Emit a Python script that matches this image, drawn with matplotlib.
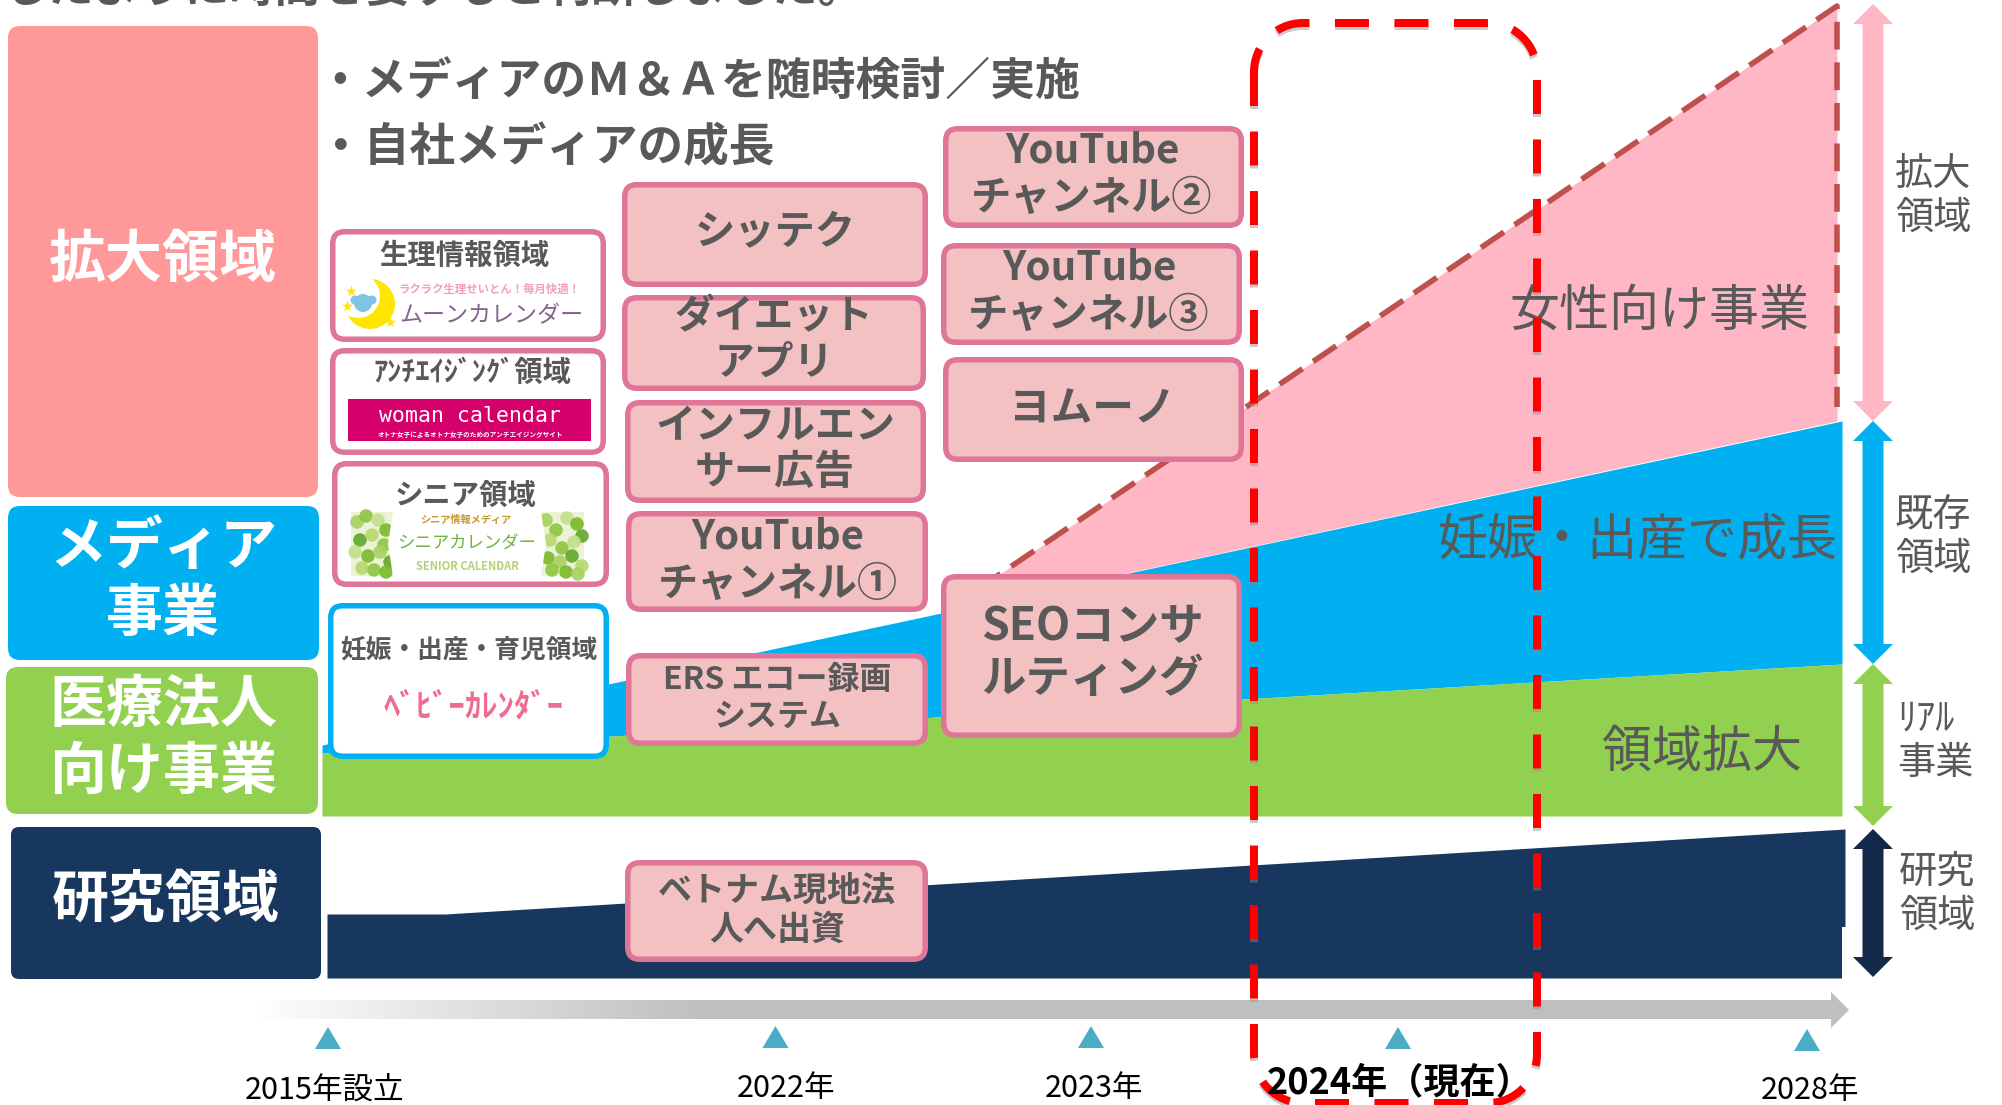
# -*-coding:utf-8-*-
from matplotlib import pyplot as plt
from matplotlib.patches import FancyBboxPatch, Polygon, Circle, Rectangle, PathPatch
from matplotlib.path import Path
import numpy as np

plt.rcParams['font.family'] = ['Noto Sans CJK JP', 'DejaVu Sans']

GRAY = '#595959'
EDGE = '#DF7597'
FILL = '#F4C1C3'

# area chart boundaries (canvas pixels)
line_x = [322, 1842]
green_top = [753, 664]
green_base = [816, 816]
blue_top = [745, 421]
pink_x = [944, 1837]
pink_top = [612, 6]
pink_base = [612, 421]
navy_x = [327, 445, 1845]
navy_top = [914, 914, 829]
navy_base = [978, 978, 978]

year_labels = ['2015年設立', '2022年', '2023年', '2028年']
current_label = '2024年（現在）'
left_labels = ['拡大領域', 'メディア\n事業', '医療法人\n向け事業', '研究領域']
right_labels = ['拡大\n領域', '既存\n領域', '研究\n領域']
real_label = 'ﾘｱﾙ\n事業'
area_labels = ['女性向け事業', '妊娠・出産で成長', '領域拡大']
bullets = ['・メディアのＭ＆Ａを随時検討／実施', '・自社メディアの成長']
box_labels_2 = ['シッテク', 'ダイエット\nアプリ', 'インフルエン\nサー広告', 'YouTube\nチャンネル①',
                'ERS エコー録画\nシステム', 'ベトナム現地法\n人へ出資']
box_labels_3 = ['YouTube\nチャンネル②', 'YouTube\nチャンネル③', 'ヨムーノ', 'SEOコンサ\nルティング']
head_line = 'したように時間を要すると判断しました。'

# bubbles of the senior calendar logo
bubble_x = [357, 366, 378, 386, 360, 372, 384, 355, 368, 380, 390, 362, 374, 386,
            546, 556, 567, 577, 582, 550, 562, 574, 548, 560, 572, 582, 552, 566, 578]
bubble_y = [522, 516, 520, 530, 540, 535, 545, 552, 556, 552, 562, 568, 570, 572,
            520, 530, 518, 524, 536, 540, 548, 542, 558, 562, 556, 566, 570, 572, 574]
bubble_c = ['#A8D060', '#8CC63F', '#C5E08A', '#7AB929', '#5FA82A', '#B5D96E', '#8CC63F',
            '#C5E08A', '#7AB929', '#A8D060', '#5FA82A', '#B5D96E', '#8CC63F', '#7AB929']


def box(ax, x0, y0, x1, y1, fc, ec=None, lw=5.5, r=12, z=3):
    # bounds are outer bounds, lw in canvas pixels
    inset = lw / 2 if ec else 0
    p = FancyBboxPatch((x0 + inset + r, y0 + inset + r),
                       x1 - x0 - 2 * inset - 2 * r, y1 - y0 - 2 * inset - 2 * r,
                       boxstyle='round,pad=%d,rounding_size=%d' % (r, r),
                       fc=fc, ec=ec if ec else 'none', lw=lw * 0.72, zorder=z)
    ax.add_patch(p)


def label(ax, x, y, s, size, color=GRAY, bold=True, z=5, **kw):
    # the font sits a little high in its box, so push it down with its size
    ax.text(x, y + size * 0.23, s, fontsize=size, color=color, ha=kw.pop('ha', 'center'), va='center',
            fontweight='bold' if bold else 'normal', zorder=z, **kw)


def updown(ax, x, y0, y1, color, z=2):
    # double headed arrow
    w, hw, hl = 10.5, 20, 20
    ax.add_patch(Polygon([(x, y0), (x + hw, y0 + hl), (x + w, y0 + hl), (x + w, y1 - hl), (x + hw, y1 - hl),
                          (x, y1), (x - hw, y1 - hl), (x - w, y1 - hl), (x - w, y0 + hl), (x - hw, y0 + hl)],
                         fc=color, ec='none', zorder=z))


def red_frame(ax, x0, y0, x1, y1, r, color='#FF0000', z=6, alpha=1):
    # rounded frame, drawn from the seam on the left side
    k = r * 0.5523
    verts = [(x0, y0 + r), (x0, y1 - r),
             (x0, y1 - r + k), (x0 + r - k, y1), (x0 + r, y1),
             (x1 - r, y1),
             (x1 - r + k, y1), (x1, y1 - r + k), (x1, y1 - r),
             (x1, y0 + r),
             (x1, y0 + r - k), (x1 - r + k, y0), (x1 - r, y0),
             (x0 + r, y0),
             (x0 + r - k, y0), (x0, y0 + r - k), (x0, y0 + r)]
    codes = [Path.MOVETO, Path.LINETO,
             Path.CURVE4, Path.CURVE4, Path.CURVE4,
             Path.LINETO,
             Path.CURVE4, Path.CURVE4, Path.CURVE4,
             Path.LINETO,
             Path.CURVE4, Path.CURVE4, Path.CURVE4,
             Path.LINETO,
             Path.CURVE4, Path.CURVE4, Path.CURVE4]
    patch = PathPatch(Path(verts, codes), fc='none', ec=color, lw=8 * 0.72, zorder=z, alpha=alpha,
                      linestyle=(0, (34 / 8, 25.5 / 8)), capstyle='butt')
    ax.add_patch(patch)


def draw_areas(ax):
    ax.fill_between(navy_x, navy_top, navy_base, color='#17375E', lw=0, zorder=1)
    ax.add_patch(Rectangle((1842, 927), 5, 53, fc='white', ec='none', zorder=1.05))
    ax.fill_between(line_x, green_top, green_base, color='#92D050', lw=0, zorder=1.2)
    ax.fill_between(line_x, blue_top, green_top, color='#00B0F0', lw=0, zorder=1.1)
    ax.fill_between(pink_x, pink_top, pink_base, color='#FFB7C5', lw=0, zorder=1)
    # dashed outline of the pink area
    ax.plot([pink_x[0], pink_x[1], pink_x[1]], [pink_top[0], pink_top[1], pink_base[1] - 14],
            color='#C0504D', lw=4, linestyle=(0, (5, 2.3)), zorder=1.5, solid_joinstyle='miter')


def draw_timeline(ax):
    grad = np.linspace(0, 1, 256).reshape(1, -1)
    grad = np.clip(grad * 1582 / 450, 0, 1)
    rgb = np.ones((1, 256, 3))
    for i in range(3):
        rgb[:, :, i] = 1 - grad * (1 - 0xBF / 255)
    ax.imshow(rgb, extent=(250, 1832, 1019.5, 1001), aspect='auto', zorder=1)
    ax.add_patch(Polygon([(1831, 992), (1849, 1010), (1831, 1028)], fc='#BFBFBF', ec='none', zorder=1))
    for x, y in zip([328, 775.5, 1091, 1398, 1807], [1049, 1048, 1048, 1049, 1051]):
        ax.add_patch(Polygon([(x - 13, y), (x, y - 22), (x + 13, y)], fc='#4BACC6', ec='none', zorder=2))
    for (x, y), s in zip([(325, 1085), (786, 1083), (1094, 1083), (1810, 1085)], year_labels):
        label(ax, x, y, s, 22, color='black', bold=False)
    label(ax, 1400, 1077, current_label, 26, color='black', z=7)


def draw_left(ax):
    box(ax, 8, 26, 318, 497, '#FF9999', z=2)
    box(ax, 8, 506, 319, 660, '#00B0F0', z=2)
    box(ax, 6, 667, 318, 814, '#92D050', z=2)
    box(ax, 11, 827, 321, 979, '#17375E', r=8, z=2)
    for (x, y), s in zip([(163, 250), (163, 571), (163, 729), (166, 891)], left_labels):
        label(ax, x, y, s, 41, color='white', linespacing=1.2)


def draw_logos(ax):
    box(ax, 330, 229, 606, 342, 'white', EDGE)
    box(ax, 330, 348, 606, 455, 'white', EDGE)
    box(ax, 332, 461, 609, 587, 'white', EDGE)
    box(ax, 328, 603, 609, 759, 'white', '#00B0F0')

    label(ax, 464, 251, '生理情報領域', 20.4)
    # moon logo
    ax.add_patch(Circle((370, 304), 25, fc='#FFE600', ec='none', zorder=4))
    ax.add_patch(Circle((358, 296), 22, fc='white', ec='none', zorder=4))
    ax.add_patch(Circle((363, 303), 9, fc='#7FC4E3', ec='none', zorder=4))
    ax.add_patch(Circle((355, 300), 4.5, fc='#7FC4E3', ec='none', zorder=4))
    ax.add_patch(Circle((372, 300), 4.5, fc='#7FC4E3', ec='none', zorder=4))
    ax.scatter([351, 347, 390], [291, 306, 322], marker='*', s=70, c='#FFE600', lw=0, zorder=4)
    label(ax, 490, 288, 'ラクラク生理せいとん！毎月快適！', 8.2, color='#F59BBF')
    label(ax, 491, 312, 'ムーンカレンダー', 16.6, color='#86628F', bold=False)

    label(ax, 472, 368, 'ｱﾝﾁｴｲｼﾞﾝｸﾞ領域', 20.4)
    ax.add_patch(Rectangle((348, 399), 243, 42, fc='#D6006C', ec='none', zorder=4))
    ax.text(470, 416, 'woman calendar', fontsize=15.5, color='white', ha='center', va='center',
            family=['DejaVu Sans Mono'], zorder=5)
    label(ax, 470, 433, 'オトナ女子によるオトナ女子のためのアンチエイジングサイト', 4.8, color='white')

    label(ax, 465.5, 491, 'シニア領域', 20.4)
    ax.add_patch(Rectangle((351, 512), 233, 64, fc='#EAF3D5', ec='none', zorder=4))
    ax.scatter(bubble_x, bubble_y, s=95, c=(bubble_c * 3)[:len(bubble_x)], lw=0, zorder=4, alpha=0.9)
    ax.add_patch(Polygon([(393, 512), (541, 512), (546, 544), (541, 576), (393, 576), (388, 544)],
                         fc='white', ec='none', zorder=4))
    label(ax, 465.5, 518, 'シニア情報メディア', 7.3, color='#C8962A')
    label(ax, 467, 540, 'シニアカレンダー', 12.5, color='#6DB33F', bold=False)
    label(ax, 467, 565, 'SENIOR CALENDAR', 8, color='#B5D07A', bold=True)

    label(ax, 469, 646, '妊娠・出産・育児領域', 18.5)
    label(ax, 474, 701, 'ﾍﾞﾋﾞｰｶﾚﾝﾀﾞｰ', 23.5, color='#EF6C8F')


def draw_boxes(ax):
    col2 = [(622, 182, 928, 287), (622, 295, 926, 391), (625, 400, 926, 503),
            (626, 511, 928, 612), (626, 653, 928, 746), (625, 860, 928, 962)]
    pos2 = [(775, 226, 29), (774, 333, 28.6), (775, 443, 28.8), (778, 554, 28.8),
            (777, 693, 23), (777, 904, 24.5)]
    for b, (x, y, s), t in zip(col2, pos2, box_labels_2):
        box(ax, *b, FILL, EDGE)
        label(ax, x, y, t, s, linespacing=1.17)

    col3 = [(943, 126, 1244, 228), (941, 243, 1242, 345), (943, 357, 1244, 462), (941, 574, 1242, 738)]
    pos3 = [(1092, 168, 29), (1089, 285, 29), (1092, 402, 30), (1092, 646, 32)]
    for b, (x, y, s), t in zip(col3, pos3, box_labels_3):
        box(ax, *b, FILL, EDGE)
        label(ax, x, y, t, s, linespacing=1.17)


def draw_right(ax):
    updown(ax, 1873, 4, 421, '#FFB7C5')
    updown(ax, 1873, 421, 664, '#00B0F0')
    updown(ax, 1873, 664, 826, '#92D050')
    updown(ax, 1873, 829, 977, '#12294A')
    for (x, y), s in zip([(1933, 190), (1933, 531), (1937, 888)], right_labels):
        label(ax, x, y, s, 27.5, bold=False, linespacing=1.18)
    label(ax, 1897, 735, real_label, 27.5, bold=False, linespacing=1.18, ha='left', multialignment='left')


if __name__ == '__main__':
    fig = plt.figure(figsize=(20.02, 11.05), dpi=100)
    ax = fig.add_axes([0, 0, 1, 1])
    ax.set_facecolor('white')

    draw_timeline(ax)
    draw_areas(ax)
    draw_left(ax)
    draw_logos(ax)
    draw_boxes(ax)
    draw_right(ax)
    # shadow first, then the frame itself
    red_frame(ax, 1254, 26, 1537, 1106, 49, color='#8A8A8A', z=5.9, alpha=0.45)
    red_frame(ax, 1254, 23, 1537, 1103, 49)

    label(ax, 433, -19, head_line, 32.6)
    label(ax, 699, 75, bullets[0], 32.3)
    label(ax, 546, 141, bullets[1], 32.9)
    for (x, y), s in zip([(1659, 303), (1638, 532), (1702, 744)], area_labels):
        label(ax, x, y, s, 36, bold=False)

    ax.set_xlim(0, 2002)
    ax.set_ylim(1105, 0)
    ax.axis('off')
    plt.savefig('out.png', dpi=100)
